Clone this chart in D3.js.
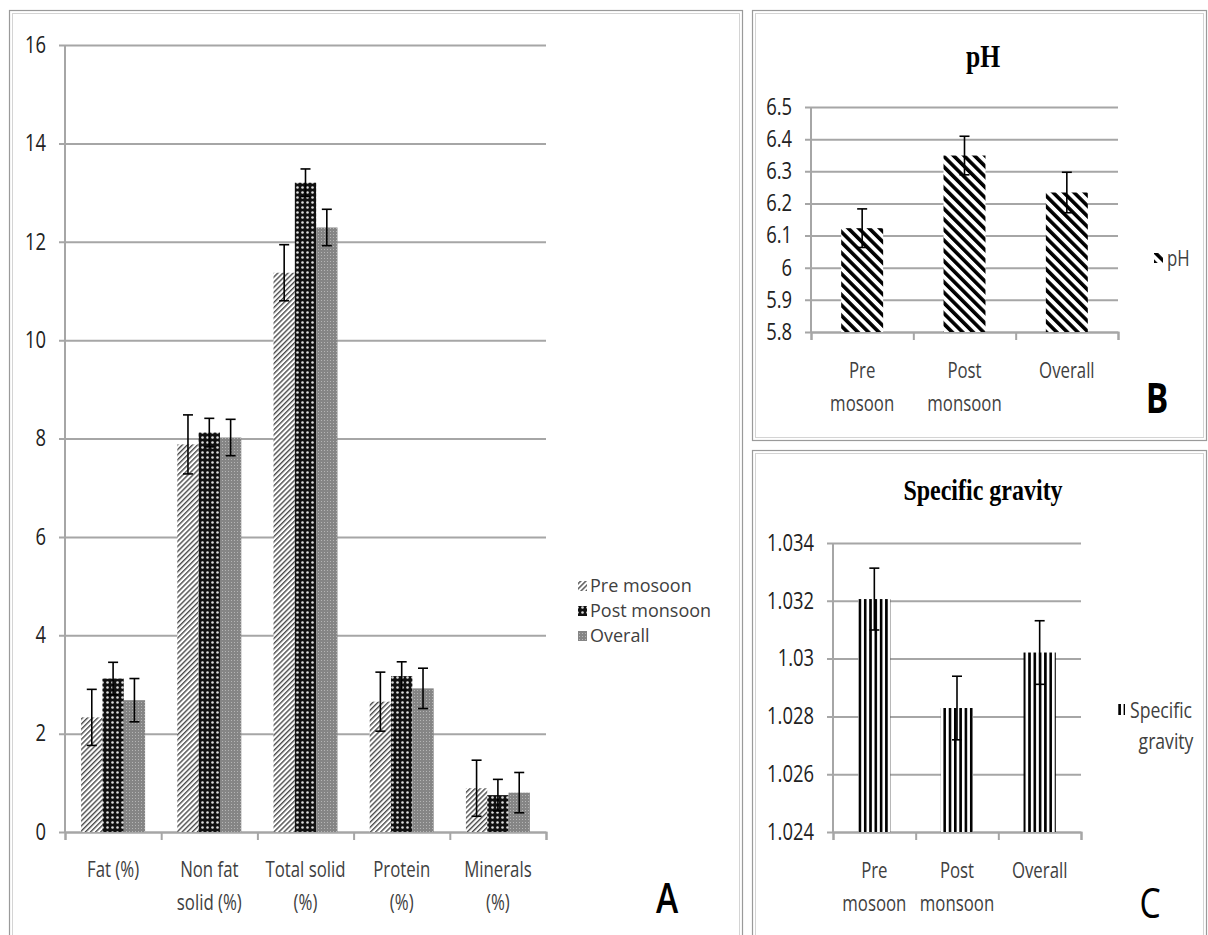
<!DOCTYPE html>
<html>
<head>
<meta charset="utf-8">
<script src="https://cdn.jsdelivr.net/npm/d3@7"></script>
<style>
body { margin: 0; background: #fff; }
svg text { font-family: "Open Sans", sans-serif; }
</style>
</head>
<body>
<div id="chart"></div>
<script>
// ---- panel A : milk composition ----
const nutrients = ["Fat (%)", "Non fat\nsolid (%)", "Total solid\n(%)", "Protein\n(%)", "Minerals\n(%)"];
const seasons = ["Pre mosoon", "Post monsoon", "Overall"];
const preMean = [2.33, 7.88, 11.37, 2.65, 0.89];
const preErr = [0.57, 0.60, 0.57, 0.60, 0.57];
const postMean = [3.12, 8.12, 13.2, 3.17, 0.75];
const postErr = [0.33, 0.29, 0.28, 0.29, 0.32];
const overallMean = [2.68, 8.02, 12.29, 2.92, 0.80];
const overallErr = [0.44, 0.37, 0.37, 0.41, 0.41];
const ticksA = [0, 2, 4, 6, 8, 10, 12, 14, 16];

// ---- panel B : pH ----
const groups = ["Pre\nmosoon", "Post\nmonsoon", "Overall"];
const phMean = [6.123, 6.349, 6.234];
const phErr = [0.06, 0.06, 0.063];
const ticksB = [5.8, 5.9, 6, 6.1, 6.2, 6.3, 6.4, 6.5];

// ---- panel C : specific gravity ----
const sgMean = [1.03206, 1.02829, 1.03021];
const sgErr = [0.00107, 0.0011, 0.0011];
const ticksC = [1.024, 1.026, 1.028, 1.03, 1.032, 1.034];

const width = 1208, height = 935;
const K = 0.8; // the picture is squeezed sideways, text too
const grid = "#a6a6a6";

const svg = d3.select("#chart").append("svg")
    .attr("width", width).attr("height", height);

function squeeze(sel, k) {
  sel.each(function () {
    const t = d3.select(this);
    const x = +t.attr("x") || 0, y = +t.attr("y") || 0;
    t.attr("x", null).attr("y", null)
     .attr("transform", `translate(${x},${y}) scale(${k || K},1)`);
  });
}

// patterns
const defs = svg.append("defs");
function pattern(id, w, h, rot) {
  const p = defs.append("pattern").attr("id", id)
      .attr("patternUnits", "userSpaceOnUse")
      .attr("width", w).attr("height", h);
  if (rot) p.attr("patternTransform", `rotate(${rot})`);
  return p;
}
let p = pattern("pre", 3.6, 4, 45);
p.append("rect").attr("width", 3.6).attr("height", 4).attr("fill", "#fff");
p.append("rect").attr("width", 1.4).attr("height", 4).attr("fill", "#4a4a4a");

p = pattern("post", 5, 5);
p.append("rect").attr("width", 5).attr("height", 5).attr("fill", "#111");
p.append("circle").attr("cx", 2.5).attr("cy", 2.5).attr("r", 1.3).attr("fill", "#ddd");

p = pattern("overall", 3, 3);
p.append("rect").attr("width", 3).attr("height", 3).attr("fill", "#858585");
p.append("rect").attr("width", 1).attr("height", 1).attr("fill", "#b5b5b5");

p = pattern("ph", 7.4, 8, -45);
p.append("rect").attr("width", 7.4).attr("height", 8).attr("fill", "#fff");
p.append("rect").attr("width", 3.6).attr("height", 8).attr("fill", "#000");

p = pattern("sg", 5.3, 8);
p.append("rect").attr("width", 5.3).attr("height", 8).attr("fill", "#fff");
p.append("rect").attr("width", 2.6).attr("height", 8).attr("fill", "#000");

const fills = ["url(#pre)", "url(#post)", "url(#overall)"];

// panel frames (double grey line)
function frame(x, y, w, h) {
  svg.append("rect").attr("x", x).attr("y", y).attr("width", w).attr("height", h)
     .attr("fill", "none").attr("stroke", "#9a9a9a").attr("stroke-width", 1.2);
  svg.append("rect").attr("x", x + 3).attr("y", y + 3).attr("width", w - 6).attr("height", h - 6)
     .attr("fill", "none").attr("stroke", "#d4d4d4").attr("stroke-width", 1);
}
frame(9.5, 10.5, 733, 940);
frame(752.5, 10.5, 454, 430);
frame(752.5, 450.5, 454, 500);

// shared axes
function axes(g, x, y, ticks, fmt, n, labelY) {
  const [l, r] = x.range();
  const [b, t] = y.range();
  const yAxis = g.append("g")
      .attr("transform", `translate(${l},0)`)
      .call(d3.axisLeft(y).tickValues(ticks).tickFormat(fmt)
            .tickSize(-(r - l)).tickPadding(19));
  yAxis.select(".domain").remove();
  yAxis.selectAll(".tick line").attr("x1", -6).attr("stroke", grid).attr("stroke-width", 2);
  yAxis.selectAll(".tick text").attr("font-size", 23).attr("fill", "#222")
      .call(squeeze);

  g.append("line").attr("x1", l).attr("x2", l).attr("y1", t).attr("y2", b)
   .attr("stroke", grid).attr("stroke-width", 2);

  const edges = d3.scaleLinear().domain([0, n]).range([l, r]);
  const xAxis = g.append("g")
      .attr("transform", `translate(0,${b})`)
      .call(d3.axisBottom(edges).tickValues(d3.range(n + 1)).tickFormat("").tickSize(8));
  xAxis.select(".domain").attr("stroke", grid).attr("stroke-width", 2);
  xAxis.selectAll(".tick line").attr("stroke", grid).attr("stroke-width", 2);

  // category labels, wrapped over two lines
  x.domain().forEach(c => {
    c.split("\n").forEach((line, i) => {
      g.append("text")
        .attr("x", x(c) + x.bandwidth() / 2)
        .attr("y", b + labelY + i * 33)
        .attr("text-anchor", "middle")
        .attr("font-size", 21).attr("fill", "#404040")
        .text(line)
        .call(squeeze);
    });
  });
}

function errorBars(g, data, cap) {
  const e = g.selectAll(null).data(data).join("g");
  e.append("line").attr("x1", d => d.x).attr("x2", d => d.x)
    .attr("y1", d => d.lo).attr("y2", d => d.hi);
  e.append("line").attr("x1", d => d.x - cap / 2).attr("x2", d => d.x + cap / 2)
    .attr("y1", d => d.hi).attr("y2", d => d.hi);
  e.append("line").attr("x1", d => d.x - cap / 2).attr("x2", d => d.x + cap / 2)
    .attr("y1", d => d.lo).attr("y2", d => d.lo);
  e.selectAll("line").attr("stroke", "#000").attr("stroke-width", 1.6);
}

function label(txt, x, y, size, weight, family) {
  svg.append("text").attr("x", x).attr("y", y)
    .attr("text-anchor", "middle").attr("font-size", size)
    .attr("font-weight", weight).attr("fill", "#000")
    .style("font-family", family || null)
    .text(txt).call(squeeze);
}

// ================= panel A =================
{
  const g = svg.append("g");
  const x = d3.scaleBand().domain(nutrients).range([65, 546])
      .paddingInner(0.335).paddingOuter(0.1675);
  const xs = d3.scaleBand().domain(seasons).range([0, x.bandwidth()]);
  const y = d3.scaleLinear().domain([0, 16]).range([832, 45]);

  axes(g, x, y, ticksA, d3.format("d"), nutrients.length, 45);

  const means = [preMean, postMean, overallMean];
  const errs = [preErr, postErr, overallErr];
  const rows = [];
  seasons.forEach((s, si) => nutrients.forEach((c, ci) => {
    rows.push({ s, si, c, v: means[si][ci], e: errs[si][ci] });
  }));

  g.selectAll(".barA").data(rows).join("rect")
    .attr("class", "barA")
    .attr("x", d => x(d.c) + xs(d.s))
    .attr("width", xs.bandwidth())
    .attr("y", d => y(d.v))
    .attr("height", d => y(0) - y(d.v))
    .attr("fill", d => fills[d.si]);

  errorBars(g, rows.map(d => ({
    x: x(d.c) + xs(d.s) + xs.bandwidth() / 2,
    hi: y(d.v + d.e), lo: y(d.v - d.e)
  })), 10);

  // legend
  const lg = g.append("g");
  seasons.forEach((s, i) => {
    const ly = 586 + i * 25;
    lg.append("rect").attr("x", 578).attr("y", ly - 5).attr("width", 9).attr("height", 10)
      .attr("fill", fills[i]);
    lg.append("text").attr("x", 590).attr("y", ly + 6)
      .attr("font-size", 18).attr("fill", "#404040").text(s).call(squeeze, 1.0);
  });

  label("A", 667, 913, 42, 600);
}

// ================= panel B =================
{
  const g = svg.append("g");
  const x = d3.scaleBand().domain(groups).range([811, 1118])
      .paddingInner(0.59).paddingOuter(0.295);
  const y = d3.scaleLinear().domain([5.8, 6.5]).range([332, 107]);

  axes(g, x, y, ticksB, d3.format(".1~f"), groups.length, 46);

  g.selectAll(".barB").data(groups).join("rect")
    .attr("class", "barB")
    .attr("x", d => x(d)).attr("width", x.bandwidth())
    .attr("y", (d, i) => y(phMean[i]))
    .attr("height", (d, i) => y(5.8) - y(phMean[i]))
    .attr("fill", "url(#ph)");

  errorBars(g, groups.map((d, i) => ({
    x: x(d) + x.bandwidth() / 2,
    hi: y(phMean[i] + phErr[i]), lo: y(phMean[i] - phErr[i])
  })), 10);

  label("pH", 983, 67, 32, "bold", "'Liberation Serif', serif");

  g.append("rect").attr("x", 1154).attr("y", 253).attr("width", 9).attr("height", 10)
    .attr("fill", "url(#ph)");
  g.append("text").attr("x", 1167).attr("y", 266).attr("font-size", 21)
    .attr("fill", "#404040").text("pH").call(squeeze);

  label("B", 1157, 413, 42, "bold");
}

// ================= panel C =================
{
  const g = svg.append("g");
  const x = d3.scaleBand().domain(groups).range([833, 1081])
      .paddingInner(0.61).paddingOuter(0.305);
  const y = d3.scaleLinear().domain([1.024, 1.034]).range([832, 543]);

  axes(g, x, y, ticksC, d3.format(".3~f"), groups.length, 46);

  g.selectAll(".barC").data(groups).join("rect")
    .attr("class", "barC")
    .attr("x", d => x(d)).attr("width", x.bandwidth())
    .attr("y", (d, i) => y(sgMean[i]))
    .attr("height", (d, i) => y(1.024) - y(sgMean[i]))
    .attr("fill", "url(#sg)");

  errorBars(g, groups.map((d, i) => ({
    x: x(d) + x.bandwidth() / 2,
    hi: y(sgMean[i] + sgErr[i]), lo: y(sgMean[i] - sgErr[i])
  })), 10);

  label("Specific gravity", 983, 500, 30, "bold", "'Liberation Serif', serif");

  g.append("rect").attr("x", 1117).attr("y", 704).attr("width", 8).attr("height", 11)
    .attr("fill", "url(#sg)");
  g.append("text").attr("x", 1130).attr("y", 718).attr("font-size", 22)
    .attr("fill", "#404040").text("Specific").call(squeeze);
  g.append("text").attr("x", 1166).attr("y", 749).attr("font-size", 22)
    .attr("text-anchor", "middle").attr("fill", "#404040").text("gravity").call(squeeze);

  label("C", 1150, 918, 42, "normal");
}
</script>
</body>
</html>
